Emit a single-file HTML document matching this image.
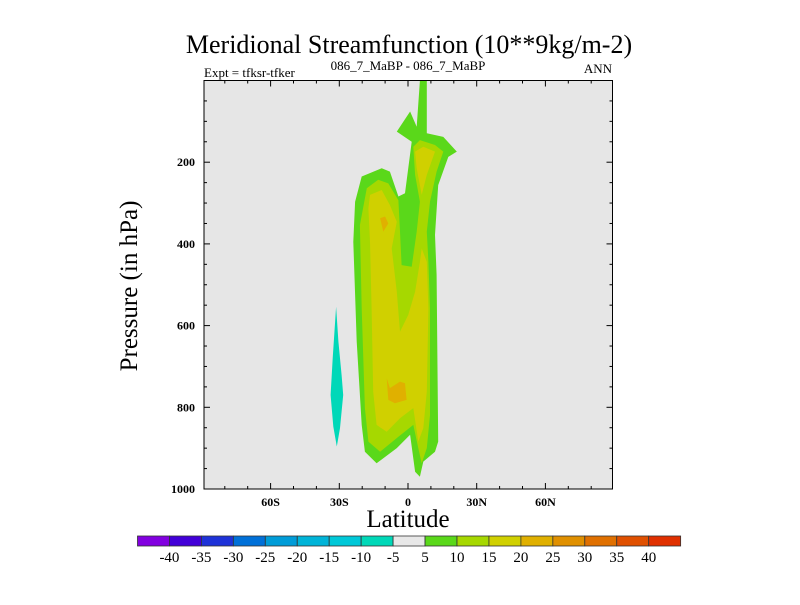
<!DOCTYPE html>
<html><head><meta charset="utf-8"><style>
body{margin:0;background:#fff;}
svg text{font-family:"Liberation Serif",serif;fill:#000;}
</style></head><body>
<svg id="chart" width="800" height="600" viewBox="0 0 800 600" xmlns="http://www.w3.org/2000/svg">
<rect width="800" height="600" fill="#fff"/>
<text x="409" y="53" font-size="26" text-anchor="middle">Meridional Streamfunction (10**9kg/m-2)</text>
<text x="204" y="77" font-size="13">Expt = tfksr-tfker</text>
<text x="408" y="70" font-size="13" text-anchor="middle">086_7_MaBP - 086_7_MaBP</text>
<text x="612" y="73" font-size="13" text-anchor="end">ANN</text>
<g id="plot"></g>
<text x="408" y="527" font-size="25" text-anchor="middle">Latitude</text>
<text transform="translate(137,286) rotate(-90)" font-size="25" text-anchor="middle">Pressure (in hPa)</text>
<g id="cbar"></g>
</svg>
<script>
const xTicks=[-60,-30,0,30,60];
const xTickLabels=["60S","30S","0","30N","60N"];
const yTicks=[200,400,600,800,1000];
const cbarLabels=[-40,-35,-30,-25,-20,-15,-10,-5,5,10,15,20,25,30,35,40];
const cbarColors=["#8200e0","#4200d8","#1e32d8","#0070d8","#009cd8","#00b4d8","#00c8d8","#00d8b8","#e8e8e8","#5ad81a","#a6d800","#d0d000","#e0b000","#e09000","#e07000","#e05000","#e03000"];
// contour regions: [lat, pressure] pairs
const regionLevels=[5,10,15,15,20,20,-10];
const regionColors=["#5ad81a","#a6d800","#d0d000","#d0d000","#e0b000","#e0b000","#00d8b8"];
const region5=[[5.2,1],[8.2,1],[8.2,129],[15.4,138],[21.3,174],[17.6,187],[13.2,256],[11.8,378],[12.5,476],[13.2,884],[11.8,909],[6.7,933],[5.2,970],[3.1,958],[0.9,867],[-4.9,900],[-13.7,937],[-18.8,909],[-20.2,843],[-22.4,639],[-23.9,395],[-23.1,297],[-20.2,235],[-11.5,215],[-7.9,223],[-4.2,284],[-1.3,276],[1.6,150],[-4.9,125],[0.9,76],[3.8,113]];
const region10=[[2.3,162],[5.2,146],[11.8,158],[15.4,174],[12.5,223],[9.6,297],[8.2,370],[8.9,444],[9.6,558],[9.6,819],[8.2,900],[6.0,937],[4.5,900],[2.3,843],[-4.2,872],[-12.2,909],[-17.3,884],[-18.8,802],[-20.2,558],[-21,354],[-18,264],[-13,243],[-8.6,252],[-4.2,293],[-3.5,370],[-2.8,452],[1.6,456],[3.8,370],[5.2,297],[3.1,231]];
const region15a=[[3.1,174],[6.7,162],[11.8,174],[8.2,231],[6.0,280],[3.8,215]];
const region15b=[[-16.6,280],[-11.5,268],[-7.9,305],[-4.9,346],[-7.1,411],[-4.9,517],[-3.5,615],[0.1,574],[3.1,517],[5.2,444],[6.0,411],[8.2,444],[8.9,558],[8.2,762],[6.7,851],[4.5,884],[2.3,802],[-3.5,827],[-9.3,860],[-13.7,843],[-15.2,762],[-15.9,558],[-16.6,395],[-17.3,313]];
const region20a=[[-12.2,337],[-10,333],[-8.6,350],[-10.8,370]];
const region20b=[[-9.3,729],[-7.9,753],[-3.5,737],[-1.3,741],[-0.6,782],[-5.7,790],[-8.6,782]];
const regionNeg10=[[-31.4,554],[-30.4,639],[-29,721],[-28.3,770],[-29.7,851],[-31.1,896],[-32.6,847],[-33.8,770],[-32.9,680]];
const regions=[region5,region10,region15a,region15b,region20a,region20b,regionNeg10];

const NS="http://www.w3.org/2000/svg";
const L=204,R=612.5,T=80.5,B=489;
const xs=lat=>408+lat*2.29;
const ys=p=>T+(p)*(B-T)/1000;
function mk(tag,attrs,parent){const e=document.createElementNS(NS,tag);for(const k in attrs)e.setAttribute(k,attrs[k]);parent.appendChild(e);return e;}
const plot=document.getElementById('plot');
let bg=mk('rect',{x:L,y:T,width:R-L,height:B-T,fill:'#e6e6e6'},plot);


regions.forEach((reg,i)=>{
  const pts=reg.map(d=>xs(d[0]).toFixed(1)+','+ys(d[1]).toFixed(1)).join(' ');
  const pg=mk('polygon',{points:pts,fill:regionColors[i]},plot);
  
  
});
let fr=mk('rect',{x:L,y:T,width:R-L,height:B-T,fill:'none',stroke:'#000','stroke-width':1},plot);


for(let lat=-80;lat<=80;lat+=10){
  const x=xs(lat),len=(lat%30===0)?6:3;
  mk('line',{x1:x,y1:B,x2:x,y2:B-len,stroke:'#000'},plot);
  mk('line',{x1:x,y1:T,x2:x,y2:T+len,stroke:'#000'},plot);
}
xTicks.forEach((v,i)=>{
  const t=mk('text',{x:xs(v),y:B+17,'font-size':12,'font-weight':'bold','text-anchor':'middle'},plot);
  t.textContent=xTickLabels[i];
  
  
});
for(let p=50;p<1000;p+=50){
  const y=ys(p),len=(p%200===0)?6:3;
  mk('line',{x1:L,y1:y,x2:L+len,y2:y,stroke:'#000'},plot);
  mk('line',{x1:R,y1:y,x2:R-len,y2:y,stroke:'#000'},plot);
}
yTicks.forEach(v=>{
  const t=mk('text',{x:L-9,y:ys(v)+4,'font-size':12,'font-weight':'bold','text-anchor':'end'},plot);
  t.textContent=v;
  
  
});
const cb=document.getElementById('cbar');
const cx0=137.5,cw=31.95,cy=536,ch=10;
cbarColors.forEach((c,i)=>{
  const r=mk('rect',{x:cx0+i*cw,y:cy,width:cw,height:ch,fill:c,stroke:'#333','stroke-width':0.8},cb);
  
  
});
cbarLabels.forEach((v,i)=>{
  const t=mk('text',{x:cx0+(i+1)*cw,y:562,'font-size':15,'text-anchor':'middle'},cb);
  t.textContent=v;
  
  
});
</script>
</body></html>
